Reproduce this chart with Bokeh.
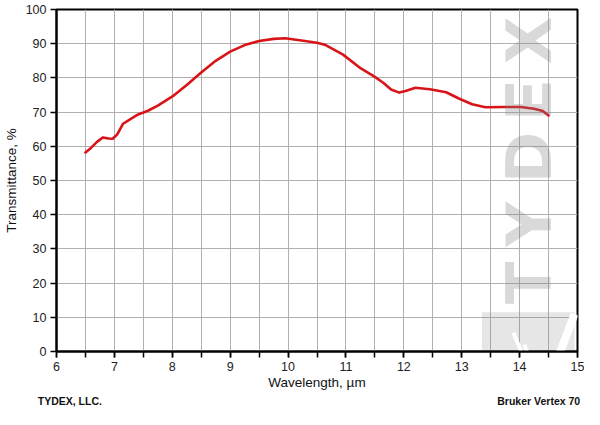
import math
from bokeh.plotting import figure
from bokeh.models import (Range1d, SingleIntervalTicker, FixedTicker, LinearAxis, Label,
                          BoxAnnotation, Arrow)
from bokeh.embed import file_html
from bokeh.resources import INLINE

# ---- data ----
wavelength = [6.50, 6.60, 6.70, 6.80, 6.90, 6.97, 7.05, 7.15, 7.27, 7.41, 7.58, 7.75,
              8.03, 8.25, 8.50, 8.75, 9.00, 9.25, 9.50, 9.75, 9.95, 10.20, 10.50,
              10.65, 10.80, 10.95, 11.23, 11.50, 11.65, 11.78, 11.92, 12.03, 12.20,
              12.45, 12.73, 12.96, 13.18, 13.41, 13.74, 14.02, 14.25, 14.40, 14.50]
transmittance = [58.2, 59.6, 61.3, 62.6, 62.3, 62.2, 63.5, 66.6, 67.9, 69.3, 70.4, 71.9,
                 74.9, 77.9, 81.6, 85.0, 87.7, 89.6, 90.8, 91.4, 91.6, 91.0, 90.3,
                 89.6, 88.2, 86.8, 83.1, 80.3, 78.5, 76.6, 75.7, 76.2, 77.1,
                 76.7, 75.8, 73.9, 72.3, 71.4, 71.5, 71.5, 71.0, 70.3, 69.0]

x_label = "Wavelength, \u00b5m"
y_label = "Transmittance, %"
footer_left = "TYDEX, LLC."
footer_right = "Bruker Vertex 70"
watermark_letters = ["T", "Y", "D", "E", "X"]
watermark_y = [20.1, 37.2, 56.7, 73.5, 91.0]

FONT = "Liberation Sans"

p = figure(width=584, height=409, output_backend="svg", toolbar_location=None,
           x_range=Range1d(6, 15), y_range=Range1d(0, 100),
           min_border_left=56, min_border_right=7, min_border_top=9, min_border_bottom=0)
p.outline_line_color = "black"
p.outline_line_width = 2
p.background_fill_color = "white"
p.border_fill_color = "white"

# axes
p.xaxis.ticker = SingleIntervalTicker(interval=1, num_minor_ticks=2)
p.yaxis.ticker = SingleIntervalTicker(interval=10, num_minor_ticks=0)
for ax in (p.xaxis[0], p.yaxis[0]):
    ax.axis_line_color = "black"
    ax.axis_line_width = 2
    ax.major_tick_line_color = "black"
    ax.major_tick_line_width = 1.5
    ax.major_tick_out = 6
    ax.major_tick_in = 0
    ax.major_label_text_font = FONT
    ax.major_label_text_font_size = "12.5px"
    ax.major_label_text_color = "#222222"
    ax.axis_label_text_font = FONT
    ax.axis_label_text_font_size = "13.5px"
    ax.axis_label_text_font_style = "normal"
    ax.axis_label_text_color = "#111111"
p.xaxis.minor_tick_line_color = "black"
p.xaxis.minor_tick_line_width = 1.5
p.xaxis.minor_tick_out = 6
p.xaxis.minor_tick_in = 0
p.yaxis.minor_tick_line_color = None
p.xaxis.axis_label = x_label
p.yaxis.axis_label = y_label
p.xaxis.major_label_standoff = 4
p.xaxis.axis_label_standoff = 1
p.yaxis.major_label_standoff = 4
p.yaxis.axis_label_standoff = 4

# footer row: an extra, invisible axis below carrying the two footer texts
footer_axis = LinearAxis(ticker=FixedTicker(ticks=[6.23, 14.33], minor_ticks=[]),
                         major_label_overrides={6.23: footer_left, 14.33: footer_right},
                         axis_line_color=None, major_tick_line_color=None,
                         minor_tick_line_color=None, major_tick_out=0, major_tick_in=0,
                         minor_tick_out=0, minor_tick_in=0, major_label_standoff=2,
                         major_label_text_font=FONT, major_label_text_font_style="bold",
                         major_label_text_font_size="10.5px",
                         major_label_text_color="#111111")
p.add_layout(footer_axis, "below")

# grid
p.xgrid.grid_line_color = "#b0b0b0"
p.xgrid.grid_line_width = 1
p.xgrid.minor_grid_line_color = "#b0b0b0"
p.xgrid.minor_grid_line_width = 1
p.ygrid.grid_line_color = "#b0b0b0"
p.ygrid.grid_line_width = 1

# watermark logo box + white strokes
p.add_layout(BoxAnnotation(left=13.35, right=14.95, bottom=-10, top=11.5,
                           fill_color="#808080", fill_alpha=0.2, line_color=None,
                           level="underlay"))
for (x0, y0, x1, y1, w) in [(13.89, 5.5, 14.32, -11.4, 4), (14.08, 2.0, 14.38, -11.4, 4),
                            (14.95, 11.0, 14.45, -11.4, 8), (14.76, 4.0, 14.41, -11.4, 4)]:
    p.add_layout(Arrow(x_start=x0, y_start=y0, x_end=x1, y_end=y1, end=None,
                       line_color="white", line_width=w, level="underlay"))

# watermark letters
for letter, yv in zip(watermark_letters, watermark_y):
    p.add_layout(Label(x=14.17, y=yv, text=letter, angle=math.pi / 2,
                       text_align="center", text_baseline="middle",
                       text_font="DejaVu Sans", text_font_style="bold",
                       text_font_size="62px", text_color="#808080", text_alpha=0.3))

# curve
p.line(wavelength, transmittance, line_color="#d81418", line_width=2.6,
       line_join="round", line_cap="round")

open("out.html", "w").write(file_html(p, INLINE))
